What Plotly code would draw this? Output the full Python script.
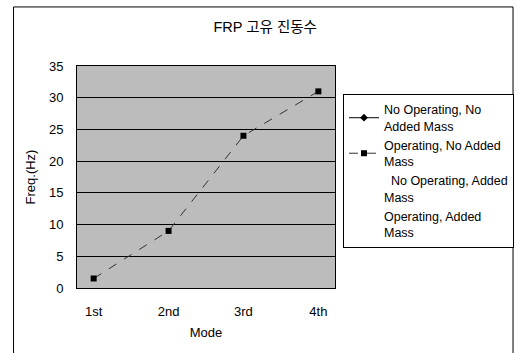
import plotly.graph_objects as go

# Natural frequency data per vibration mode
modes = ["1st", "2nd", "3rd", "4th"]
no_op_no_mass = [None, None, None, None]
op_no_mass = [1.5, 9, 24, 31]
no_op_mass = [None, None, None, None]
op_mass = [None, None, None, None]

series_names = [
    "No Operating, No<br>Added Mass",
    "Operating, No Added<br>Mass",
    "\u00a0\u00a0No Operating, Added<br>Mass",
    "Operating, Added<br>Mass",
]
y_ticks = [0, 5, 10, 15, 20, 25, 30, 35]

FONT = "Liberation Sans, Arial, Noto Sans CJK KR, sans-serif"

fig = go.Figure()
fig.add_trace(go.Scatter(
    x=modes, y=no_op_no_mass, name=series_names[0], mode="lines+markers",
    line=dict(color="black", width=1), marker=dict(symbol="diamond", size=6, color="black"),
))
fig.add_trace(go.Scatter(
    x=modes, y=op_no_mass, name=series_names[1], mode="lines+markers",
    line=dict(color="#333333", width=1, dash="dash"),
    marker=dict(symbol="square", size=6, color="black"),
))
fig.add_trace(go.Scatter(
    x=modes, y=no_op_mass, name=series_names[2], mode="lines",
    line=dict(color="rgba(0,0,0,0)", width=1),
))
fig.add_trace(go.Scatter(
    x=modes, y=op_mass, name=series_names[3], mode="lines",
    line=dict(color="rgba(0,0,0,0)", width=1),
))

# Outer chart frame
fig.add_shape(type="rect", xref="paper", yref="paper",
              x0=-0.246, x1=1.69, y0=-0.5, y1=1.266,
              line=dict(color="black", width=1), layer="below")

fig.update_layout(
    width=516, height=353,
    margin=dict(l=77, r=181, t=66, b=65, autoexpand=False),
    paper_bgcolor="white",
    plot_bgcolor="#bcbcbc",
    font=dict(family=FONT, size=13, color="black"),
    title=dict(text="FRP 고유 진동수", x=0.514, xanchor="center", y=0.923, yanchor="middle",
               font=dict(size=14.5)),
    showlegend=True,
    legend=dict(
        x=1.031, y=0.874, xanchor="left", yanchor="top",
        bordercolor="black", borderwidth=1, bgcolor="white",
        font=dict(size=12.5), tracegroupgap=0, itemwidth=30,
    ),
    xaxis=dict(
        type="category", showgrid=False, showline=True, linecolor="black", linewidth=1,
        mirror=True, ticks="outside", ticklen=11, tickcolor="rgba(0,0,0,0)",
        title=dict(text="Mode", standoff=10, font=dict(size=13)),
        tickfont=dict(size=13),
    ),
    yaxis=dict(
        range=[0, 35], tickvals=y_ticks, showgrid=True, gridcolor="black", gridwidth=1,
        showline=True, linecolor="black", linewidth=1, mirror=True,
        ticks="outside", ticklen=10, tickcolor="rgba(0,0,0,0)",
        title=dict(text="Freq.(Hz)", standoff=10, font=dict(size=13)),
        tickfont=dict(size=13), zeroline=False,
    ),
)

fig.write_html("out.html")
